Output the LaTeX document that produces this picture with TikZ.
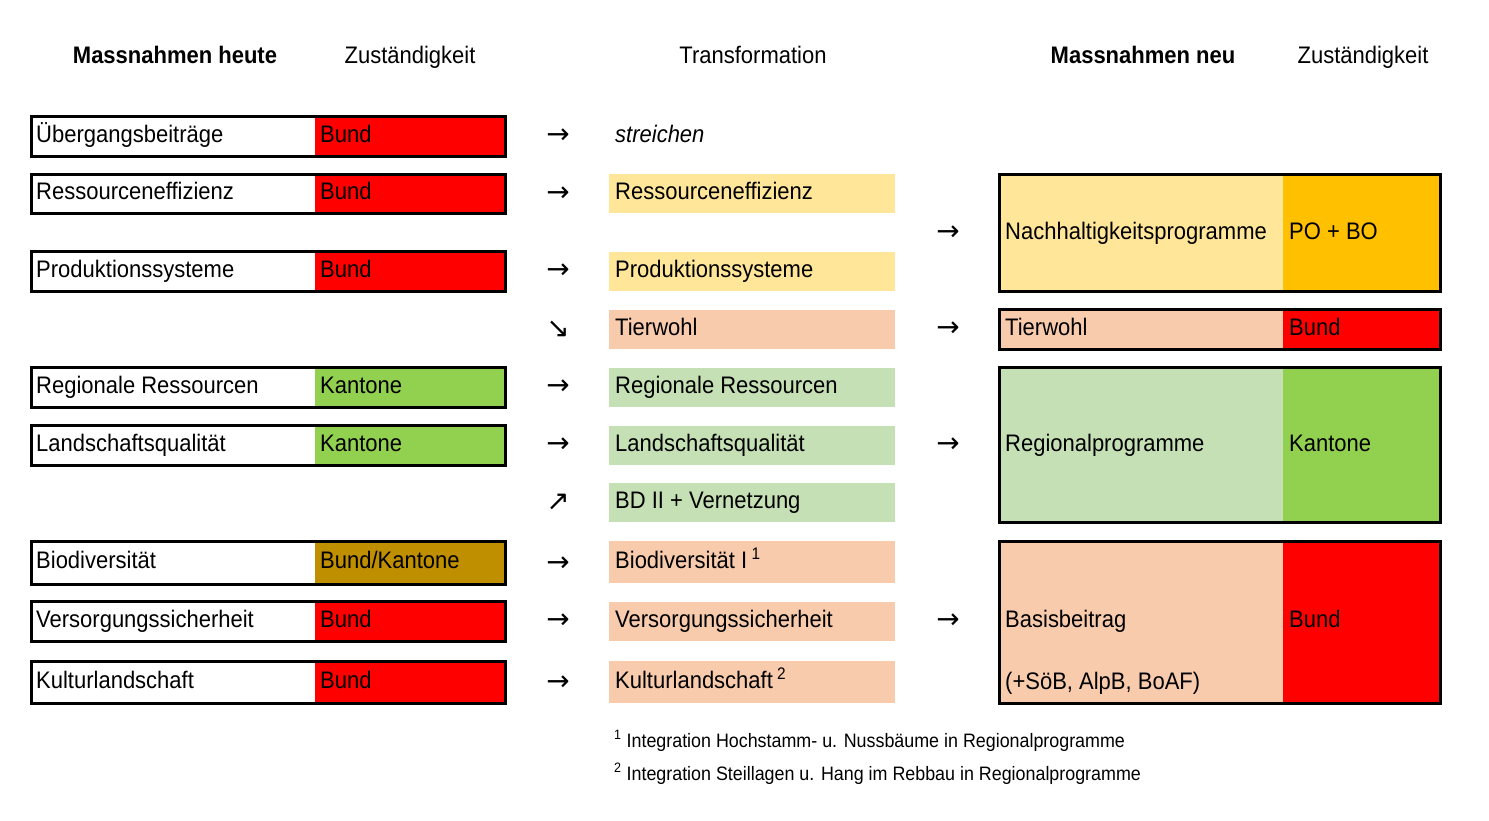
\documentclass[tikz,border=0pt]{standalone}
\usepackage{fontspec}
\setmainfont[FakeStretch=0.92]{Liberation Sans}
\newfontfamily\arr{DejaVu Sans}
\definecolor{cred}{HTML}{FF0000}
\definecolor{cgreen}{HTML}{92D050}
\definecolor{cbrown}{HTML}{BF8F00}
\definecolor{cyel}{HTML}{FFE699}
\definecolor{corange}{HTML}{FFC000}
\definecolor{cpeach}{HTML}{F8CBAD}
\definecolor{clgreen}{HTML}{C5E0B4}
\tikzset{txt/.style={font=\fontsize{24}{26}\selectfont,anchor=west,inner sep=0pt,text height=17bp,text depth=5bp},
 hd/.style={font=\fontsize{24}{26}\selectfont,inner sep=0pt,text height=17bp,text depth=5bp},
 ar/.style={font=\arr\fontsize{28}{30}\selectfont,inner sep=0pt},
 frame/.style={draw=black,line width=3bp},
 fn/.style={font=\fontsize{19.5}{21}\selectfont,anchor=west,inner sep=0pt,text height=14bp,text depth=4bp}}
\begin{document}
\begin{tikzpicture}[x=1bp,y=-1bp]
\useasboundingbox (0,0) rectangle (1489,820);
\node[hd,font=\bfseries\fontsize{24}{26}\selectfont] (h1) at (175,58) {Massnahmen heute};
\node[hd] (h2) at (410,58) {Zuständigkeit};
\node[hd] (h3) at (753,58) {Transformation};
\node[hd,font=\bfseries\fontsize{24}{26}\selectfont] (h4) at (1143,58) {Massnahmen neu};
\node[hd] (h5) at (1363,58) {Zuständigkeit};
% left boxes
\foreach \t/\b/\c/\z/\n in {116/156/cred/Bund/Übergangsbeiträge,174/213/cred/Bund/Ressourceneffizienz,251/291/cred/Bund/Produktionssysteme,367/407/cgreen/Kantone/Regionale Ressourcen,425/465/cgreen/Kantone/Landschaftsqualität,541/584/cbrown/Bund\slash Kantone/Biodiversität,601/641/cred/Bund/Versorgungssicherheit,661/703/cred/Bund/Kulturlandschaft}{
 \fill[\c] (315,\t) rectangle (505,\b);
 \draw[frame] (31,\t) rectangle (505,\b);
 \node[txt] at (36,{(\t+\b)/2}) {\n};
 \node[txt] at (320,{(\t+\b)/2}) {\z};
}
% middle
\node[txt,font=\itshape\fontsize{24}{26}\selectfont] (s) at (615,136) {streichen};
\foreach \t/\b/\c/\n in {174/213/cyel/Ressourceneffizienz,252/291/cyel/Produktionssysteme,310/349/cpeach/Tierwohl,368/407/clgreen/Regionale Ressourcen,426/465/clgreen/Landschaftsqualität,483/522/clgreen/BD II + Vernetzung,541/583/cpeach/Biodiversität I\textsuperscript{ 1},602/641/cpeach/Versorgungssicherheit,661/703/cpeach/Kulturlandschaft\textsuperscript{ 2}}{
 \fill[\c] (609,\t) rectangle (895,\b);
 \node[txt] at (615,{(\t+\b)/2}) {\n};
}
\foreach \y/\a in {136/→,194/→,271/→,329/↘,387/→,445/→,502/↗,564/→,621/→,683/→}{\node[ar] at (558,\y) {\a};}
\foreach \y in {233,329,445,621}{\node[ar] at (948,\y) {→};}
% right
\foreach \t/\b/\c/\d in {174/291/cyel/corange,309/349/cpeach/cred,367/522/clgreen/cgreen,541/703/cpeach/cred}{
 \fill[\c] (999,\t) rectangle (1283,\b);
 \fill[\d] (1283,\t) rectangle (1440,\b);
 \draw[frame] (999,\t) rectangle (1440,\b);
}
\node[txt] (n1) at (1005,233) {Nachhaltigkeitsprogramme};
\node[txt] (z1) at (1289,233) {PO + BO};
\node[txt] (n2) at (1005,329) {Tierwohl};
\node[txt] (z2) at (1289,329) {Bund};
\node[txt] (n3) at (1005,445) {Regionalprogramme};
\node[txt] (z3) at (1289,445) {Kantone};
\node[txt] (n4) at (1005,621) {Basisbeitrag};
\node[txt] (n5) at (1005,683) {(+SöB, AlpB, BoAF)};
\node[txt] (z4) at (1289,621) {Bund};
\node[fn] (f1) at (614,742) {\textsuperscript{1} Integration Hochstamm- u. Nussbäume in Regionalprogramme};
\node[fn] (f2) at (614,775) {\textsuperscript{2} Integration Steillagen u. Hang im Rebbau in Regionalprogramme};
\end{tikzpicture}
\end{document}
